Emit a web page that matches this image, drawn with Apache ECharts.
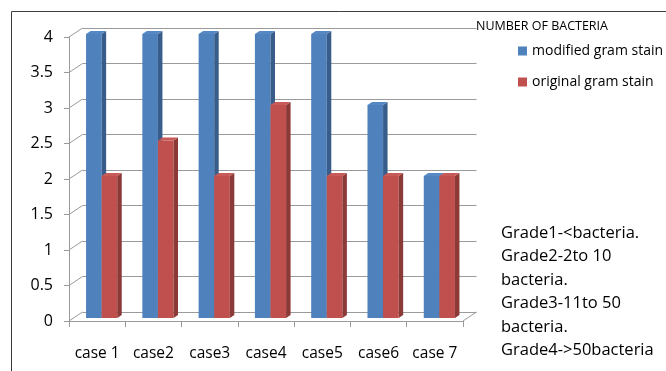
<!DOCTYPE html>
<html>
<head>
<meta charset="utf-8">
<script src="https://cdn.jsdelivr.net/npm/echarts@6/dist/echarts.min.js"></script>
<style>
  html, body { margin: 0; padding: 0; background: #fff; }
  #chart { width: 666px; height: 371px; }
</style>
</head>
<body>
<div id="chart"></div>
<script>
// Data
const cases = ['case 1', 'case2', 'case3', 'case4', 'case5', 'case6', 'case 7'];
const modifiedStain = [4, 4, 4, 4, 4, 3, 2];
const originalStain = [2, 2.5, 2, 3, 2, 2, 2];
const yTicks = [0, 0.5, 1, 1.5, 2, 2.5, 3, 3.5, 4];
const gradeNotes = [
  'Grade1-<bacteria.',
  'Grade2-2to 10',
  'bacteria.',
  'Grade3-11to 50',
  'bacteria.',
  'Grade4->50bacteria'
];

const FONT = '"Open Sans", Lato, sans-serif';
const GRID_COLOR = '#9a9a9a';

// Depth of the 3D walls (back plane offset) and of each column
const WALL_DX = 13.5, WALL_DY = -9;
const BAR_SHIFT_X = 4.5, BAR_SHIFT_Y = -3;   // column front face sits slightly behind the floor edge
const BAR_DX = 4.5, BAR_DY = -3;             // column depth
const BAR_FRAC = 0.277;                      // column width as share of category

const chart = echarts.init(document.getElementById('chart'), null, { renderer: 'canvas' });

function barRenderer(colors, side) {
  // side: -1 = left column of the pair, 0 = right column
  return function (params, api) {
    const idx = api.value(0);
    const val = api.value(1);
    const base = api.coord([idx, 0]);
    const top = api.coord([idx, val]);
    const catW = api.size([1, 0])[0];
    const bw = catW * BAR_FRAC;
    const x0 = base[0] + BAR_SHIFT_X + side * bw;
    const x1 = x0 + bw;
    const by = base[1] + BAR_SHIFT_Y;
    const ty = top[1] + BAR_SHIFT_Y;
    return {
      type: 'group',
      children: [
        { type: 'polygon', shape: { points: [[x0, ty], [x1, ty], [x1, by], [x0, by]] },
          style: { fill: colors.front } },
        { type: 'polygon', shape: { points: [[x1, ty], [x1 + BAR_DX, ty + BAR_DY], [x1 + BAR_DX, by + BAR_DY], [x1, by]] },
          style: { fill: colors.side } },
        { type: 'polygon', shape: { points: [[x0, ty], [x1, ty], [x1 + BAR_DX, ty + BAR_DY], [x0 + BAR_DX, ty + BAR_DY]] },
          style: { fill: colors.top } }
      ]
    };
  };
}

const option = {
  animation: false,
  backgroundColor: '#ffffff',
  title: [
    { text: 'NUMBER OF BACTERIA', left: 476, top: 19, padding: 0,
      textStyle: { fontFamily: FONT, fontSize: 12.5, fontWeight: 'normal', color: '#000', lineHeight: 14 } },
    { text: gradeNotes.join('\n'), left: 501, top: 221.5, padding: 0,
      textStyle: { fontFamily: FONT, fontSize: 16.5, fontWeight: 'normal', color: '#000', lineHeight: 23.4 } }
  ],
  legend: {
    orient: 'vertical', left: 518, top: 44, padding: 0, itemWidth: 9, itemHeight: 9, itemGap: 17,
    icon: 'rect', selectedMode: false,
    textStyle: { fontFamily: FONT, fontSize: 14, color: '#000', lineHeight: 14 },
    data: [
      { name: 'modified gram stain', itemStyle: { color: '#4F81BD' } },
      { name: 'original gram stain', itemStyle: { color: '#C0504D' } }
    ]
  },
  grid: [
    { left: 69, top: 37, width: 394, height: 284 },
    { left: 69 + WALL_DX, top: 37 + WALL_DY, width: 394, height: 284 }
  ],
  xAxis: [
    { type: 'category', gridIndex: 0, data: cases, boundaryGap: true,
      axisLine: { lineStyle: { color: GRID_COLOR } },
      axisTick: { show: true, length: 6, lineStyle: { color: GRID_COLOR } },
      axisLabel: { interval: 0, hideOverlap: false, margin: 25, fontFamily: FONT, fontSize: 15.5, color: '#000', lineHeight: 16 } },
    { type: 'category', gridIndex: 1, data: cases, show: false }
  ],
  yAxis: [
    { type: 'value', gridIndex: 0, min: 0, max: 4, interval: 0.5,
      axisLine: { show: true, lineStyle: { color: GRID_COLOR } },
      axisTick: { show: true, length: 5, lineStyle: { color: GRID_COLOR } },
      splitLine: { show: false },
      axisLabel: { margin: 16, fontFamily: FONT, fontSize: 16, color: '#000' } },
    { type: 'value', gridIndex: 1, min: 0, max: 4, interval: 0.5,
      axisLine: { show: false }, axisTick: { show: false }, axisLabel: { show: false },
      splitLine: { show: true, lineStyle: { color: GRID_COLOR, width: 1 } } }
  ],
  series: [
    // side wall / floor connectors between the front axis and the back wall
    { type: 'custom', xAxisIndex: 0, yAxisIndex: 0, silent: true, z: 1,
      data: yTicks.map(v => [0, v]),
      renderItem: function (params, api) {
        const v = api.value(1);
        const p = api.coord([0, v]);
        const cs = params.coordSys;
        const children = [
          { type: 'line', shape: { x1: cs.x, y1: p[1], x2: cs.x + WALL_DX, y2: p[1] + WALL_DY },
            style: { stroke: GRID_COLOR, lineWidth: 1 } }
        ];
        if (v === 0) {
          children.push({ type: 'line',
            shape: { x1: cs.x + cs.width, y1: p[1], x2: cs.x + cs.width + WALL_DX, y2: p[1] + WALL_DY },
            style: { stroke: GRID_COLOR, lineWidth: 1 } });
        }
        return { type: 'group', children: children };
      } },
    { name: 'modified gram stain', type: 'custom', xAxisIndex: 0, yAxisIndex: 0, z: 3,
      itemStyle: { color: '#4F81BD' },
      data: modifiedStain.map((v, i) => [i, v]),
      renderItem: barRenderer({ front: '#4F81BD', side: '#385D8A', top: '#5689C4' }, -1) },
    { name: 'original gram stain', type: 'custom', xAxisIndex: 0, yAxisIndex: 0, z: 4,
      itemStyle: { color: '#C0504D' },
      data: originalStain.map((v, i) => [i, v]),
      renderItem: barRenderer({ front: '#C0504D', side: '#8C3A38', top: '#C85A57' }, 0) }
  ],
  graphic: [
    { type: 'rect', shape: { x: 11.5, y: 11.5, width: 700, height: 400 },
      style: { fill: 'none', stroke: '#3c3c3c', lineWidth: 1 }, z: 100, silent: true }
  ]
};

chart.setOption(option);
</script>
</body>
</html>
